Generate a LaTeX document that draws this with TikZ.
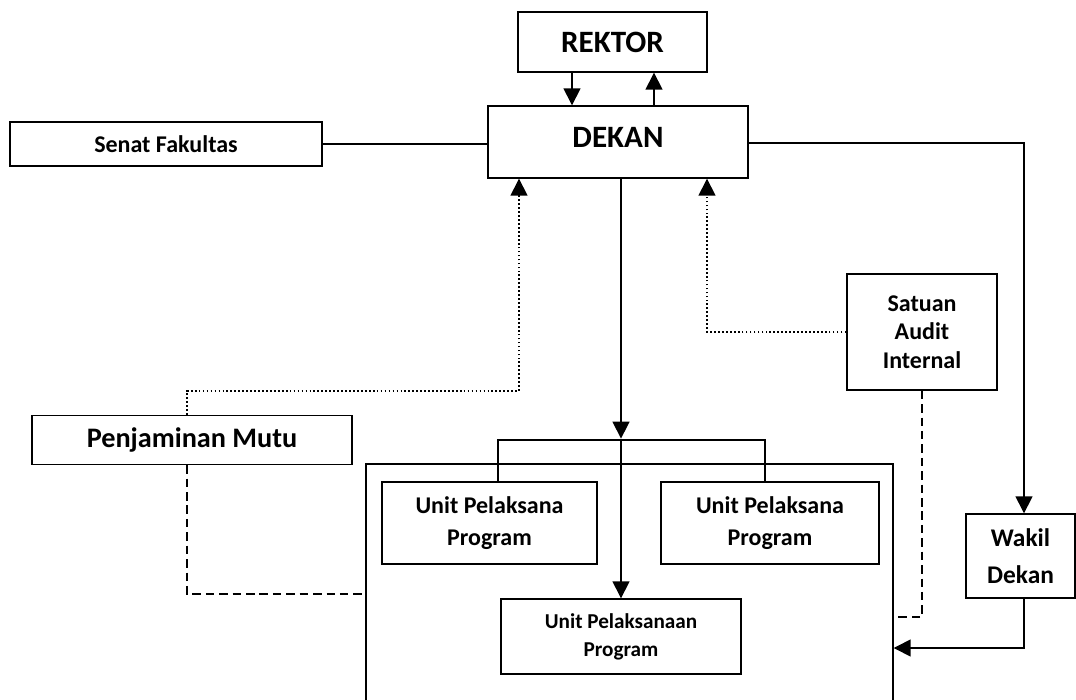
\documentclass[tikz,border=0pt]{standalone}
\usepackage{fontspec}
\setmainfont{Carlito}
\usetikzlibrary{arrows.meta}

\newcommand{\pxu}{0.708pt}
\tikzset{
  kotak/.style={draw, line width=1pt, inner sep=0pt, align=center, font=\bfseries},
  panah/.style={-{Triangle[length=12pt,width=12pt]}},
  titik/.style={dash pattern=on 1.2pt off 1.6pt},
  putus/.style={dash pattern=on 6pt off 3.5pt},
}

\begin{document}
\begin{tikzpicture}[x=0.708pt, y=-0.708pt, line width=1.1pt]
    \useasboundingbox (0,0) rectangle (1076,700);
    % kotak-kotak
    \node [kotak, minimum width=189*\pxu, minimum height=60*\pxu, font=\bfseries\fontsize{22}{26}\selectfont] (rektor) at (612.5,42) {REKTOR};
    \node [kotak, minimum width=260*\pxu, minimum height=72*\pxu, text depth=7pt, font=\bfseries\fontsize{22}{26}\selectfont] (dekan) at (618,142) {DEKAN};
    \node [kotak, minimum width=312*\pxu, minimum height=44*\pxu, font=\bfseries\fontsize{17}{20}\selectfont] (senat) at (166,144) {Senat Fakultas};
    \node [kotak, minimum width=320*\pxu, minimum height=49*\pxu, font=\bfseries\fontsize{20}{24}\selectfont] (penjaminan) at (192,440) {Penjaminan Mutu};
    \node [kotak, minimum width=150*\pxu, minimum height=116*\pxu, font=\bfseries\fontsize{17}{20}\selectfont] (satuan) at (922,332) {Satuan\\Audit\\Internal};
    \node [kotak, minimum width=109*\pxu, minimum height=84*\pxu, font=\bfseries\fontsize{18}{26}\selectfont] (wakil) at (1020.5,556) {Wakil\\Dekan};
    \node [kotak, minimum width=527*\pxu, minimum height=252*\pxu] (wadah) at (629.5,590) {};
    \node [kotak, minimum width=215*\pxu, minimum height=82*\pxu, font=\bfseries\fontsize{17}{23}\selectfont] (unitA) at (489.5,523) {Unit Pelaksana\\Program};
    \node [kotak, minimum width=218*\pxu, minimum height=82*\pxu, font=\bfseries\fontsize{17}{23}\selectfont] (unitB) at (770,523) {Unit Pelaksana\\Program};
    \node [kotak, minimum width=240*\pxu, minimum height=75*\pxu, font=\bfseries\fontsize{15}{20}\selectfont] (unitC) at (621,636.5) {Unit Pelaksanaan\\Program};
    \coordinate (cabang) at (621,440);

    % garis komando
    \draw [panah] (rektor.south -| 572,0) -- (dekan.north -| 572,0);
    \draw [panah] (dekan.north -| 654,0) -- (rektor.south -| 654,0);
    \draw (senat.east) -- (senat.east -| dekan.west);
    \draw [panah] (dekan.east |- 0,143) -| (wakil.north -| 1024,0);
    \draw [panah] (wakil.south -| 1024,0) |- (wadah.east |- 0,648);
    \draw [panah] (dekan.south -| cabang) -- ([yshift=1pt]cabang);
    \draw [panah] (cabang) -- (unitC.north);
    \draw (unitA.north -| 498,0) |- (cabang) -| (unitB.north -| 765,0);

    % garis koordinasi
    \draw [titik, panah] (penjaminan.north -| 187,0) -- (187,391) -| (dekan.south -| 519,0);
    \draw [titik, panah] (satuan.west) -| (dekan.south -| 707,0);
    \draw [putus] (penjaminan.south -| 187,0) |- (wadah.west |- 0,594);
    \draw [putus] (satuan.south) |- (wadah.east |- 0,617);
\end{tikzpicture}
\end{document}
